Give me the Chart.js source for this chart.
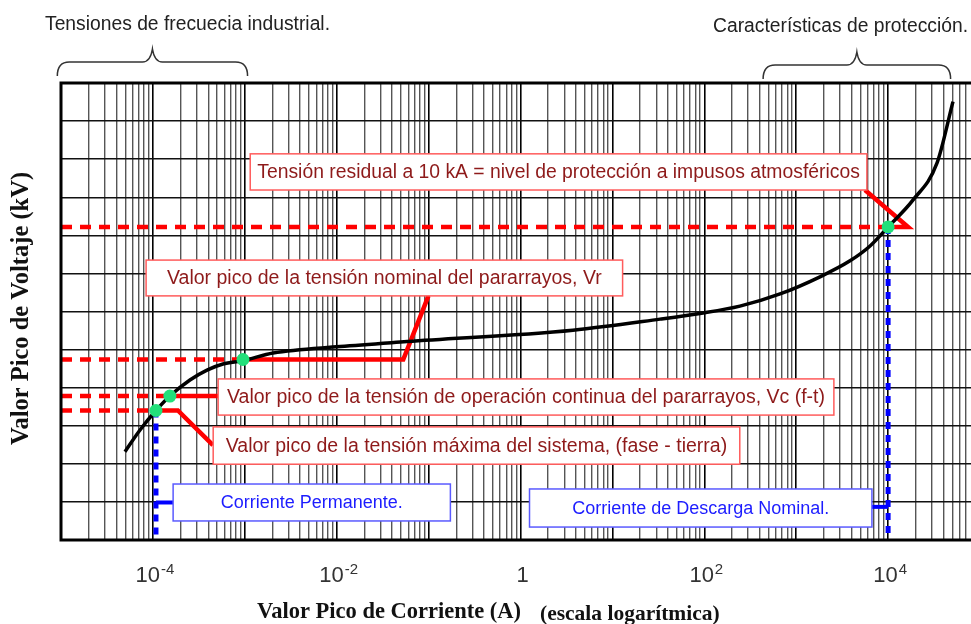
<!DOCTYPE html>
<html>
<head>
<meta charset="utf-8">
<script src="https://cdn.jsdelivr.net/npm/chart.js@4.4.0/dist/chart.umd.min.js"></script>
<style>
  html, body { margin: 0; padding: 0; background: #fff; }
  #wrap { width: 971px; height: 624px; }
</style>
</head>
<body>
<div id="wrap"><canvas id="chart" width="971" height="624"></canvas></div>
<script>
// --- DATA ---
// V-I characteristic of the arrester: peak current (A) vs peak voltage (grid units, no scale given)
const curveCurrent = [4.97e-5, 7.24e-5, 1.08e-4, 1.53e-4, 2.53e-4, 3.88e-4, 5.79e-4, 9.55e-4, 2.03e-3, 1.09e-2, 5.82e-2, 3.72, 33, 89.7, 244, 667, 1815, 3850, 6360, 1.0e4, 1.87e4, 3.41e4, 5.08e4];
const curveVoltage = [2.32, 2.89, 3.40, 3.78, 4.20, 4.46, 4.62, 4.71, 4.91, 5.08, 5.21, 5.51, 5.80, 5.95, 6.14, 6.46, 6.91, 7.33, 7.72, 8.22, 8.93, 9.90, 11.51];

// marked operating points (green dots): Vmax system, Vc, Vr, residual at 10 kA
const markCurrent = [1.08e-4, 1.53e-4, 9.55e-4, 1.0e4];
const markVoltage = [3.40, 3.78, 4.74, 8.22];

// axis ranges and tick labels
const xMin = 1e-5;
const xMax = Math.pow(10, 4.902);
const yMin = 0;
const yMax = 12;
const xTickValues = [1e-4, 1e-2, 1, 1e2, 1e4];
const xTickBase = ['10', '10', '1', '10', '10'];
const xTickExp = ['-4', '-2', '', '2', '4'];

// texts
const xTitleMain = 'Valor Pico de Corriente (A)';
const xTitleNote = '(escala logarítmica)';
const yTitle = 'Valor Pico de Voltaje (kV)';
const leftHeader = 'Tensiones de frecuecia industrial.';
const rightHeader = 'Características de protección.';

// callout boxes (x as log10 of current, y in voltage units)
const callouts = [
    { text: 'Tensión residual a 10 kA = nivel de protección a impusos atmosféricos', kind: 'red', lx0: -2.941, lx1: 3.769, y0: 9.19, y1: 10.14 },
    { text: 'Valor pico de la tensión nominal del pararrayos, Vr', kind: 'red', lx0: -4.074, lx1: 1.111, y0: 6.41, y1: 7.35 },
    { text: 'Valor pico de la tensión de operación continua del pararrayos, Vc (f-t)', kind: 'red', lx0: -3.290, lx1: 3.410, y0: 3.28, y1: 4.23 },
    { text: 'Valor pico de la tensión máxima del sistema, (fase - tierra)', kind: 'red', lx0: -3.344, lx1: 2.386, y0: 1.99, y1: 2.97 },
    { text: 'Corriente Permanente.', kind: 'blue', lx0: -3.780, lx1: -0.763, y0: 0.50, y1: 1.47 },
    { text: 'Corriente de Descarga Nominal.', kind: 'blue', lx0: 0.098, lx1: 3.824, y0: 0.34, y1: 1.34 }
];

// leader lines from the points to the boxes
const redLeaders = [
    [{ x: 1.0e4, y: 8.22 }, { x: 1.65e4, y: 8.22 }, { x: 5.6e3, y: 9.19 }],
    [{ x: 9.55e-4, y: 4.74 }, { x: 5.3e-2, y: 4.74 }, { x: 9.96e-2, y: 6.41 }],
    [{ x: 1.53e-4, y: 3.78 }, { x: 5.1e-4, y: 3.78 }],
    [{ x: 1.08e-4, y: 3.40 }, { x: 1.87e-4, y: 3.40 }, { x: 4.5e-4, y: 2.49 }]
];
const blueLeaders = [
    [{ x: 1.08e-4, y: 0.985 }, { x: 1.66e-4, y: 0.985 }],
    [{ x: 6.52e3, y: 0.87 }, { x: 1.0e4, y: 0.87 }]
];
const bracesLog = [[-5.04, -2.97], [2.64, 4.68]];

// --- DATASETS ---
const curvePoints = curveCurrent.map((c, i) => ({ x: c, y: curveVoltage[i] }));
const markPoints = markCurrent.map((c, i) => ({ x: c, y: markVoltage[i] }));

const datasets = [];
datasets.push({
    data: markPoints, showLine: false, pointRadius: 6.5, pointHoverRadius: 6.5,
    pointBackgroundColor: '#22e07a', pointBorderWidth: 0
});
datasets.push({
    data: curvePoints, borderColor: '#000', borderWidth: 3.5, pointRadius: 0,
    cubicInterpolationMode: 'monotone', fill: false
});
redLeaders.forEach(pts => datasets.push({
    data: pts, borderColor: '#ff0000', borderWidth: 4.5, pointRadius: 0, tension: 0, fill: false
}));
// dashed levels from the axis to each marked point
markPoints.forEach(p => datasets.push({
    data: [{ x: xMin, y: p.y }, { x: p.x, y: p.y }], borderColor: '#ff0000', borderWidth: 4.5,
    borderDash: [11, 8], pointRadius: 0, fill: false
}));
// dotted current markers
[markPoints[0], markPoints[3]].forEach(p => datasets.push({
    data: [{ x: p.x, y: p.y }, { x: p.x, y: yMin }], borderColor: '#0000ff', borderWidth: 5,
    borderDash: [7, 6], pointRadius: 0, fill: false
}));
blueLeaders.forEach(pts => datasets.push({
    data: pts, borderColor: '#0000ff', borderWidth: 4, pointRadius: 0, fill: false
}));

// grid lines: 1..9 per decade
const gridValues = [];
for (let e = -5; e <= 4; e++) {
    for (let m = 1; m <= 9; m++) {
        const v = m * Math.pow(10, e);
        if (v >= xMin && v <= xMax) gridValues.push(v);
    }
}
const isDecade = v => Math.abs(Math.log10(v) - Math.round(Math.log10(v))) < 1e-6;

// --- DRAWING HELPERS ---
// draws text at (x, y), squeezed horizontally if it is wider than maxW
function fitText(ctx, text, x, y, maxW) {
    const w = ctx.measureText(text).width;
    const s = Math.min(1, maxW / w);
    ctx.save();
    ctx.translate(x, y);
    ctx.scale(s, 1);
    ctx.fillText(text, 0, 0);
    ctx.restore();
}

function drawBrace(ctx, x0, x1, yEnd, yLine, yPeak) {
    const xm = (x0 + x1) / 2;
    ctx.beginPath();
    ctx.moveTo(x0, yEnd);
    ctx.quadraticCurveTo(x0, yLine, x0 + 12, yLine);
    ctx.lineTo(xm - 10, yLine);
    ctx.quadraticCurveTo(xm - 2, yLine, xm, yPeak);
    ctx.quadraticCurveTo(xm + 2, yLine, xm + 10, yLine);
    ctx.lineTo(x1 - 12, yLine);
    ctx.quadraticCurveTo(x1, yLine, x1, yEnd);
    ctx.stroke();
}

const decorPlugin = {
    id: 'decor',
    afterDatasetsDraw(chart) {
        const ctx = chart.ctx;
        const xs = chart.scales.x, ys = chart.scales.y;
        const area = chart.chartArea;

        // --- callout boxes ---
        callouts.forEach(c => {
            const left = xs.getPixelForValue(Math.pow(10, c.lx0));
            const right = xs.getPixelForValue(Math.pow(10, c.lx1));
            const top = ys.getPixelForValue(c.y1);
            const bottom = ys.getPixelForValue(c.y0);
            ctx.save();
            ctx.fillStyle = '#fff';
            ctx.fillRect(left, top, right - left, bottom - top);
            ctx.lineWidth = 1.5;
            ctx.strokeStyle = c.kind === 'red' ? '#ff5c5c' : '#5a5aff';
            ctx.strokeRect(left, top, right - left, bottom - top);
            ctx.fillStyle = c.kind === 'red' ? '#8e1a1a' : '#1c1cff';
            ctx.font = c.kind === 'red' ? '19.5px "Liberation Sans", Arial, sans-serif' : '18px "Liberation Sans", Arial, sans-serif';
            ctx.textBaseline = 'middle';
            ctx.textAlign = 'left';
            const maxW = right - left - 14;
            const w = Math.min(ctx.measureText(c.text).width, maxW);
            fitText(ctx, c.text, (left + right) / 2 - w / 2, (top + bottom) / 2 + 1, maxW);
            ctx.restore();
        });

        // --- frame ---
        ctx.save();
        ctx.strokeStyle = '#000';
        ctx.lineWidth = 3;
        ctx.beginPath();
        ctx.moveTo(area.right + 2, area.top);
        ctx.lineTo(area.left, area.top);
        ctx.lineTo(area.left, area.bottom);
        ctx.lineTo(area.right + 2, area.bottom);
        ctx.stroke();
        ctx.restore();

        // --- x tick labels with exponents ---
        ctx.save();
        ctx.fillStyle = '#333';
        ctx.textBaseline = 'alphabetic';
        ctx.textAlign = 'left';
        xTickValues.forEach((v, i) => {
            ctx.font = '22px "Liberation Sans", Arial, sans-serif';
            const bw = ctx.measureText(xTickBase[i]).width;
            ctx.font = '15px "Liberation Sans", Arial, sans-serif';
            const ew = xTickExp[i] ? ctx.measureText(xTickExp[i]).width + 1 : 0;
            const x = xs.getPixelForValue(v) - (bw + ew) / 2 + 2;
            const base = area.bottom + 42;
            ctx.font = '22px "Liberation Sans", Arial, sans-serif';
            ctx.fillText(xTickBase[i], x, base);
            if (xTickExp[i]) {
                ctx.font = '15px "Liberation Sans", Arial, sans-serif';
                ctx.fillText(xTickExp[i], x + bw + 1, base - 8);
            }
        });
        ctx.restore();

        // --- axis titles ---
        ctx.save();
        ctx.fillStyle = '#111';
        ctx.textBaseline = 'alphabetic';
        ctx.textAlign = 'left';
        ctx.font = 'bold 22.5px "Liberation Serif", "Times New Roman", serif';
        fitText(ctx, xTitleMain, 257, 618, 266);
        ctx.font = 'bold 21.5px "Liberation Serif", "Times New Roman", serif';
        fitText(ctx, xTitleNote, 540, 620, 186);
        ctx.translate(28, (area.top + area.bottom) / 2 - 3);
        ctx.rotate(-Math.PI / 2);
        ctx.textAlign = 'center';
        ctx.font = 'bold 24.5px "Liberation Serif", "Times New Roman", serif';
        fitText(ctx, yTitle, 0, 0, 280);
        ctx.restore();

        // --- headers and braces ---
        ctx.save();
        ctx.fillStyle = '#222';
        ctx.font = '19.5px "Liberation Sans", Arial, sans-serif';
        ctx.textAlign = 'left';
        fitText(ctx, leftHeader, 45, 30, 285);
        const rw = Math.min(ctx.measureText(rightHeader).width, 255);
        fitText(ctx, rightHeader, 968 - rw, 32, 255);
        ctx.strokeStyle = '#333';
        ctx.lineWidth = 1.5;
        const b0 = bracesLog[0], b1 = bracesLog[1];
        drawBrace(ctx, xs.getPixelForValue(Math.pow(10, b0[0])), xs.getPixelForValue(Math.pow(10, b0[1])), area.top - 7, area.top - 21, area.top - 34);
        drawBrace(ctx, xs.getPixelForValue(Math.pow(10, b1[0])), xs.getPixelForValue(Math.pow(10, b1[1])), area.top - 4, area.top - 18, area.top - 31);
        ctx.restore();
    }
};

// --- CHART ---
new Chart(document.getElementById('chart').getContext('2d'), {
    type: 'line',
    data: { datasets: datasets },
    options: {
        responsive: false,
        animation: false,
        events: [],
        layout: { autoPadding: false, padding: { left: 61, top: 83, right: 0, bottom: 84 } },
        plugins: { legend: { display: false }, tooltip: { enabled: false } },
        scales: {
            x: {
                type: 'logarithmic',
                min: xMin,
                max: xMax,
                afterBuildTicks: (axis) => { axis.ticks = gridValues.map(v => ({ value: v })); },
                ticks: { display: false },
                border: { display: false },
                grid: {
                    drawTicks: false,
                    color: (c) => (c.tick && isDecade(c.tick.value)) ? '#000' : '#555',
                    lineWidth: (c) => (c.tick && isDecade(c.tick.value)) ? 1.6 : 1.4
                }
            },
            y: {
                type: 'linear',
                min: yMin,
                max: yMax,
                ticks: { display: false, stepSize: 1 },
                border: { display: false },
                grid: { drawTicks: false, color: '#111', lineWidth: 1.5 }
            }
        }
    },
    plugins: [decorPlugin]
});
</script>
</body>
</html>
